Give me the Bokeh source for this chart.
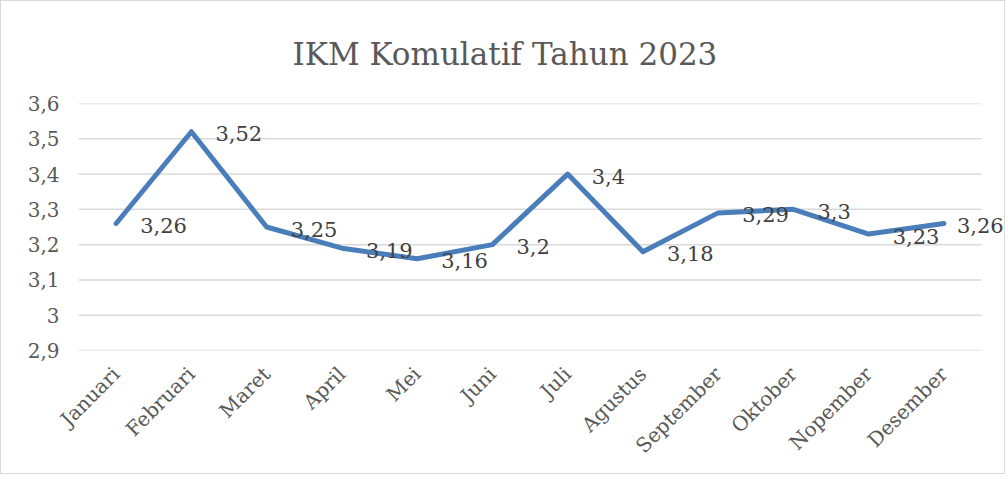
from bokeh.plotting import figure
from bokeh.models import Range1d, FixedTicker, CustomJSTickFormatter, Label
from bokeh.embed import file_html
from bokeh.resources import INLINE
import math

months = ["Januari", "Februari", "Maret", "April", "Mei", "Juni", "Juli",
          "Agustus", "September", "Oktober", "Nopember", "Desember"]
ikm = [3.26, 3.52, 3.25, 3.19, 3.16, 3.2, 3.4, 3.18, 3.29, 3.3, 3.23, 3.26]
y_ticks = [2.9, 3.0, 3.1, 3.2, 3.3, 3.4, 3.5, 3.6]
title_text = "IKM Komulatif Tahun 2023"

# label horizontal offsets (style): last label is pulled in to fit, as in the reference
label_dx = [24] * 11 + [13]

FONT = "DejaVu Serif"
TXT = "#595959"

W, H = 1005, 474
LEFT, TOP, BOTTOM = 77, 102, 125
PLOT_W = 903  # width of the gridded plot area in px
FRAME_W = W - LEFT
n = len(months)

# category centres on a numeric axis (one unit per month)
xs = [i + 0.5 for i in range(n)]

p = figure(x_range=Range1d(0, n * FRAME_W / PLOT_W), y_range=Range1d(2.9, 3.6),
           width=W, height=H, output_backend="svg", toolbar_location=None,
           min_border_left=LEFT, min_border_right=0, min_border_top=TOP, min_border_bottom=BOTTOM)
p.outline_line_color = None
p.background_fill_color = "white"
p.border_fill_color = "white"
p.styles = {"border": "1px solid #D9D9D9"}

p.title.text = title_text
p.title.align = "left"
p.title.vertical_align = "middle"
p.title.text_font = FONT
p.title.text_font_size = "31px"
p.title.text_font_style = "normal"
p.title.text_color = TXT
p.title.standoff = 62
p.title.offset = 214

p.xgrid.grid_line_color = None
p.ygrid.grid_line_color = None
# horizontal gridlines spanning only the category area
p.segment(x0=[0] * len(y_ticks), x1=[n] * len(y_ticks), y0=y_ticks, y1=y_ticks,
          line_color="#D9D9D9", line_width=1.5)

p.yaxis.ticker = FixedTicker(ticks=y_ticks)
p.yaxis.formatter = CustomJSTickFormatter(
    code="return tick.toFixed(1).replace('.0','').replace('.', ',');")
p.xaxis.ticker = FixedTicker(ticks=xs)
p.xaxis.major_label_overrides = {x: m for x, m in zip(xs, months)}
for ax in (p.xaxis, p.yaxis):
    ax.axis_line_color = None
    ax.major_tick_line_color = None
    ax.minor_tick_line_color = None
    ax.major_tick_out = 0
    ax.major_tick_in = 0
    ax.minor_tick_out = 0
    ax.minor_tick_in = 0
    ax.major_label_text_font = FONT
    ax.major_label_text_color = TXT
p.yaxis.major_label_text_font_size = "20px"
p.yaxis.major_label_standoff = 19
p.xaxis.major_label_text_font_size = "20px"
p.xaxis.major_label_orientation = math.pi / 4
p.xaxis.major_label_standoff = 20

p.line(x=xs, y=ikm, line_width=5, line_color="#4A7EBB",
       line_join="round", line_cap="round")

for x, v, dx in zip(xs, ikm, label_dx):
    p.add_layout(Label(x=x, y=v, text=str(v).replace(".", ","), x_offset=dx, y_offset=-2,
                       text_font=FONT, text_font_size="21px", text_color="#404040",
                       text_align="left", text_baseline="middle"))

open("out.html", "w").write(file_html(p, INLINE))
